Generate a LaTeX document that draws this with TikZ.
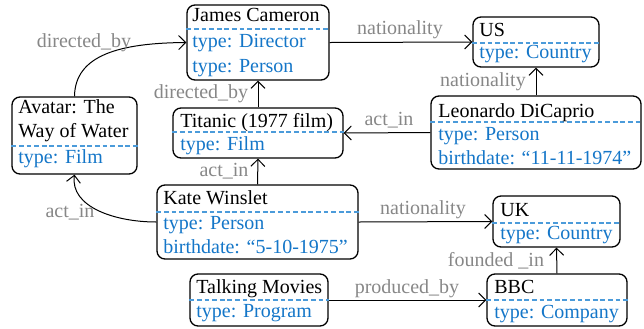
\documentclass[tikz,border=0pt]{standalone}
\usepackage{fontspec}
\setmainfont{Liberation Serif}
\usetikzlibrary{fit,arrows.meta}
\definecolor{attrblue}{RGB}{20,118,200}
\definecolor{sepblue}{RGB}{75,155,218}
\definecolor{lblgray}{RGB}{135,135,135}
\tikzset{
  box/.style={draw=black, line width=0.65pt, rounded corners=4pt, inner sep=0pt, fit={#1}},
  sepline/.style={draw=sepblue, line width=0.65pt, dash pattern=on 2.4pt off 1.4pt},
  ttl/.style={anchor=base west, inner sep=0pt, text=black, font=\fontsize{10}{12}\selectfont},
  attr/.style={anchor=base west, inner sep=0pt, text=attrblue, font=\fontsize{10}{12}\selectfont},
  lbl/.style={anchor=base, inner sep=0pt, text=lblgray, font=\fontsize{10}{12}\selectfont},
  rel/.style={draw=black, line width=0.5pt, -{Straight Barb[length=3.5pt,width=7pt]}},
}
\begin{document}
\begin{tikzpicture}[x=0.5pt,y=-0.5pt]
\useasboundingbox (0,0) rectangle (644,328);
% James Cameron
\node[box={(187,5) (329,80)}] (jc) {};
\draw[sepline] (jc.west |- 0,29) -- (jc.east |- 0,29);
\node[ttl] (jct) at (192,21) {James Cameron};
\node[attr] (jca) at (192,47) {type: Director};
\node[attr] (jcb) at (192,72) {type: Person};
% US
\node[box={(473,17) (599,67)}] (us) {};
\draw[sepline] (us.west |- 0,43) -- (us.east |- 0,43);
\node[ttl] (ust) at (479,36) {US};
\node[attr] (usa) at (479,58) {type: Country};
% Leonardo
\node[box={(431,96) (641,169)}] (leo) {};
\draw[sepline] (leo.west |- 0,122) -- (leo.east |- 0,122);
\node[ttl] (leot) at (438,117) {Leonardo DiCaprio};
\node[attr] (leoa) at (438,140) {type: Person};
\node[attr] (leob) at (438,164) {birthdate: “11-11-1974”};
% Titanic
\node[box={(173,108) (343,158)}] (tit) {};
\draw[sepline] (tit.west |- 0,132) -- (tit.east |- 0,132);
\node[ttl] (titt) at (180,127) {Titanic (1977 film)};
\node[attr] (tita) at (180,150) {type: Film};
% Avatar
\node[box={(12,97) (137,174)}] (av) {};
\draw[sepline] (av.west |- 0,146) -- (av.east |- 0,146);
\node[ttl] (avt) at (18,113) {Avatar: The};
\node[ttl] (avu) at (18,137) {Way of Water};
\node[attr] (ava) at (18,163) {type: Film};
% Kate Winslet
\node[box={(157,185) (358,259)}] (kw) {};
\draw[sepline] (kw.west |- 0,212) -- (kw.east |- 0,212);
\node[ttl] (kwt) at (163,204) {Kate Winslet};
\node[attr] (kwa) at (163,229) {type: Person};
\node[attr] (kwb) at (163,253) {birthdate: “5-10-1975”};
% UK
\node[box={(493,196) (620,247)}] (uk) {};
\draw[sepline] (uk.west |- 0,223) -- (uk.east |- 0,223);
\node[ttl] (ukt) at (500,216) {UK};
\node[attr] (uka) at (500,239) {type: Country};
% Talking Movies
\node[box={(190,274) (328,326)}] (tm) {};
\draw[sepline] (tm.west |- 0,300) -- (tm.east |- 0,300);
\node[ttl] (tmt) at (196,293) {Talking Movies};
\node[attr] (tma) at (196,317) {type: Program};
% BBC
\node[box={(487,274) (627,326)}] (bbc) {};
\draw[sepline] (bbc.west |- 0,300) -- (bbc.east |- 0,300);
\node[ttl] (bbct) at (494,293) {BBC};
\node[attr] (bbca) at (494,318) {type: Company};
% edges
\draw[rel] (av.north) .. controls (75,55) and (120,43) .. (jc.west);
\node[lbl] (l1) at (84,47) {directed\_by};
\draw[rel] (tit.north) -- (jc.south);
\node[lbl] (l2) at (201,98) {directed\_by};
\draw[rel] (kw.north) -- (tit.south);
\node[lbl] (l3) at (224,176) {act\_in};
\draw[rel] (kw.west) .. controls (115,222) and (70,207) .. (av.south);
\node[lbl] (l4) at (70,217) {act\_in};
\draw[rel] (jc.east) -- (us.west);
\node[lbl] (l5) at (400,34) {nationality};
\draw[rel] (leo.north) -- (us.south);
\node[lbl] (l6) at (483,86) {nationality};
\draw[rel] (leo.west) -- (tit.east);
\node[lbl] (l7) at (389,125) {act\_in};
\draw[rel] (kw.east) -- (uk.west);
\node[lbl] (l8) at (423,214) {nationality};
\draw[rel] (bbc.north) -- (uk.south);
\node[lbl] (l9) at (496,266) {founded \_in};
\draw[rel] (tm.east) -- (bbc.west);
\node[lbl] (l10) at (407,293) {produced\_by};
\end{tikzpicture}
\end{document}
